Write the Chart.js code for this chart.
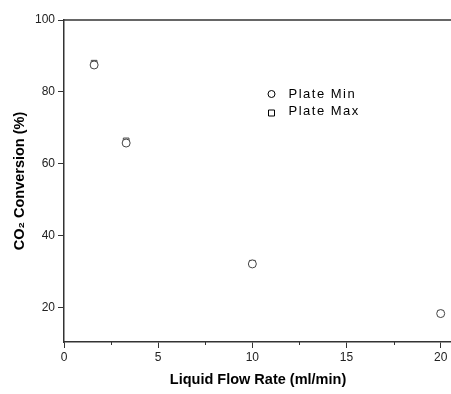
<!DOCTYPE html>
<html>
<head>
<meta charset="utf-8">
<script src="https://cdn.jsdelivr.net/npm/chart.js@4.4.0/dist/chart.umd.min.js"></script>
<style>
	html, body { margin: 0; padding: 0; background: #fff; overflow: hidden; }
	#wrap { width: 451px; height: 394px; overflow: hidden; }
</style>
</head>
<body>
<!-- canvas is a bit wider than the window so the plot runs to the right edge -->
<div id="wrap"><canvas id="myChart" width="457" height="394"></canvas></div>
<script>
// data
const flowRate = [1.6, 3.3, 10, 20]
const plateMin = [87.5, 65.8, 32.2, 18.4]
const plateMax = [88, 66.4, 32.4, 18.5]
const xTicks = [0, 5, 10, 15, 20]
const xMinor = [2.5, 7.5, 12.5, 17.5]
const yTicks = [20, 40, 60, 80, 100]

const FONT = "'Liberation Sans', Arial, sans-serif"
const AXIS = "#333"

function points(ys) {
	return flowRate.map((x, i) => ({ x: x, y: ys[i] }))
}

// top frame line, minor x ticks and the legend inside the plot
const extras = {
	id: "extras",
	afterDraw(chart) {
		const ctx = chart.ctx
		const a = chart.chartArea
		const xs = chart.scales.x
		ctx.save()
		ctx.strokeStyle = AXIS
		ctx.lineWidth = 1.5
		ctx.beginPath()
		ctx.moveTo(a.left, a.top)
		ctx.lineTo(chart.width, a.top)
		ctx.stroke()

		ctx.lineWidth = 1
		xMinor.forEach(v => {
			const px = Math.round(xs.getPixelForValue(v)) + 0.5
			ctx.beginPath()
			ctx.moveTo(px, a.bottom)
			ctx.lineTo(px, a.bottom + 3)
			ctx.stroke()
		})

		ctx.font = "13px " + FONT
		ctx.letterSpacing = "1.5px"
		ctx.fillStyle = "#000"
		ctx.textBaseline = "middle"
		const lx = 271.5, ly = 94
		chart.data.datasets.forEach((ds, i) => {
			const y = ly + i * 17
			ctx.strokeStyle = "#000"
			ctx.beginPath()
			if (ds.pointStyle === "circle") {
				ctx.arc(lx, y, 3.5, 0, Math.PI * 2)
			} else {
				ctx.rect(lx - 3, y - 1, 6, 6)
			}
			ctx.stroke()
			ctx.fillText(ds.label, lx + 17, y)
		})
		ctx.restore()
	}
}

new Chart("myChart", {
	type: "scatter",
	data: {
		datasets: [
			{
				label: "Plate Min",
				data: points(plateMin),
				pointStyle: "circle",
				pointRadius: 4,
				borderWidth: 1,
				borderColor: "#444",
				backgroundColor: "#fff"
			},
			{
				label: "Plate Max",
				data: points(plateMax),
				pointStyle: "rect",
				pointRadius: 4,
				borderWidth: 1,
				borderColor: "#444",
				backgroundColor: "rgba(255,255,255,0)"
			}
		]
	},
	options: {
		responsive: false,
		animation: false,
		layout: { padding: { top: 20, right: 0, left: 0, bottom: 0 } },
		plugins: {
			legend: { display: false },
			tooltip: { enabled: false }
		},
		scales: {
			x: {
				type: "linear",
				min: 0,
				max: 20.6,
				afterBuildTicks: (s) => { s.ticks = xTicks.map(v => ({ value: v })) },
				afterFit: (s) => { s.height = 52 },
				border: { color: AXIS, width: 1.5 },
				grid: { drawOnChartArea: false, tickLength: 6, tickColor: AXIS },
				ticks: {
					padding: 2,
					color: "#222",
					maxRotation: 0,
					autoSkip: false,
					font: { family: FONT, size: 12 }
				},
				title: {
					display: true,
					text: "Liquid Flow Rate (ml/min)",
					color: "#000",
					font: { family: FONT, size: 14.5, weight: "bold" },
					padding: { top: 0, bottom: 5 }
				}
			},
			y: {
				min: 10.5,
				max: 100,
				afterBuildTicks: (s) => { s.ticks = yTicks.map(v => ({ value: v })) },
				afterFit: (s) => { s.width = 64 },
				border: { color: AXIS, width: 1.5 },
				grid: { drawOnChartArea: false, tickLength: 6, tickColor: AXIS },
				ticks: {
					padding: 3,
					color: "#222",
					autoSkip: false,
					font: { family: FONT, size: 12 }
				},
				title: {
					display: true,
					text: "CO₂ Conversion (%)",
					color: "#000",
					font: { family: FONT, size: 14.5, weight: "bold" },
					padding: { top: 11, bottom: 0 }
				}
			}
		}
	},
	plugins: [extras]
})
</script>
</body>
</html>
